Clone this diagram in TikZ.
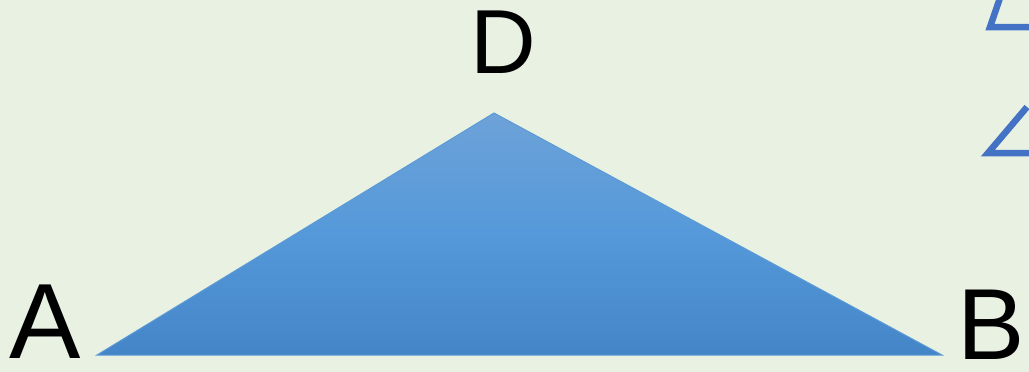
\documentclass[tikz,border=0pt]{standalone}
\usepackage{fontspec}
\setmainfont{Liberation Sans}
\definecolor{bg}{HTML}{E9F1E3}
\definecolor{tritop}{HTML}{6DA2D8}
\definecolor{trimid}{HTML}{5599DA}
\definecolor{tribot}{HTML}{4485C8}
\definecolor{triedge}{HTML}{5B9BD5}
\definecolor{symblue}{HTML}{4472C4}
\begin{document}
\begin{tikzpicture}[x=1pt,y=-1pt,
  lbl/.style={inner sep=0pt, text=black},
  sym/.style={draw=symblue, line width=6.5pt, line join=miter}]
\useasboundingbox (0,0) rectangle (1029,372);
\fill[bg] (0,0) rectangle (1029,372);
\coordinate (A) at (97,355);
\coordinate (D) at (494,113);
\coordinate (B) at (942,355);
\shade[top color=tritop, bottom color=tribot, middle color=trimid] (A) -- (D) -- (B) -- cycle;
\draw[triedge, line width=1pt] (A) -- (D) -- (B) -- cycle;
\node[lbl, anchor=south west] (la) at (9,359) {\fontsize{107}{107}\selectfont A};
\node[lbl, anchor=south west] (ld) at (470,74) {\fontsize{91}{91}\selectfont D};
\node[lbl, anchor=south west] (lb) at (957,360) {\fontsize{101}{101}\selectfont B};
\draw[sym] (1001,-5) -- (990,27) -- (1035,27);
\draw[sym] (1027,107) -- (988,153) -- (1035,153);
\end{tikzpicture}
\end{document}
